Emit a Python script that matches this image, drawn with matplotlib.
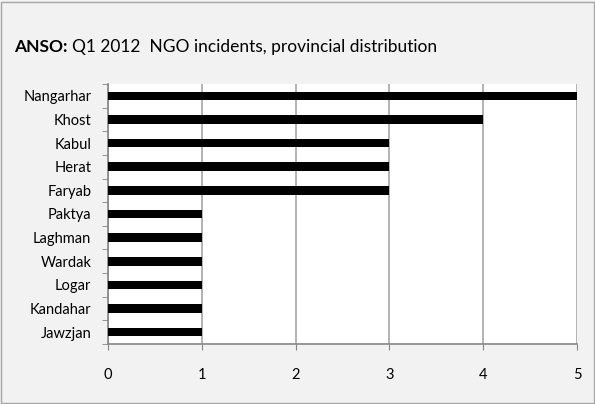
import matplotlib.pyplot as plt
from matplotlib.patches import Rectangle

provinces = ['Nangarhar', 'Khost', 'Kabul', 'Herat', 'Faryab', 'Paktya',
             'Laghman', 'Wardak', 'Logar', 'Kandahar', 'Jawzjan']
incidents = [5, 4, 3, 3, 3, 1, 1, 1, 1, 1, 1]
xticks = [0, 1, 2, 3, 4, 5]

plt.rcParams['font.family'] = ['Lato', 'DejaVu Sans']

fig = plt.figure(figsize=(5.95, 4.04), dpi=100, facecolor='#f2f2f2')
fig.patches.append(Rectangle((0.002, 0.002), 0.996, 0.994, transform=fig.transFigure,
                             fill=False, edgecolor='#a6a6a6', linewidth=1))
ax = fig.add_axes([108 / 595, 1 - 344 / 404, (577 - 108) / 595, (344 - 84) / 404])
ax.set_facecolor('white')

ypos = list(range(len(provinces)))[::-1]
ax.barh(ypos, incidents, height=0.36, color='black', zorder=3)

ax.set_xlim(0, 5)
ax.set_ylim(-0.5, len(provinces) - 0.5)
ax.set_xticks(xticks)
ax.set_yticks(ypos)
ax.set_yticklabels(provinces)
ax.set_yticks([y + 0.5 for y in range(-1, len(provinces))], minor=True)
ax.tick_params(axis='y', which='major', length=0, labelsize=10.5, pad=12)
ax.tick_params(axis='y', which='minor', length=4, color='#868686')
ax.tick_params(axis='x', length=4, color='#868686', labelsize=10.5, pad=13)
ax.grid(axis='x', color='#a6a6a6', linewidth=1.2, zorder=0)
for s in ['top', 'right']:
    ax.spines[s].set_visible(False)
for s in ['left', 'bottom']:
    ax.spines[s].set_color('#868686')
    ax.spines[s].set_linewidth(1.2)

fig.text(14 / 595, 1 - 47 / 404, 'ANSO:', fontsize=12.5, fontweight='bold', va='center')
fig.text(72 / 595, 1 - 47 / 404, 'Q1 2012  NGO incidents, provincial distribution',
         fontsize=12.5, va='center')

fig.savefig('out.png', dpi=100, facecolor=fig.get_facecolor())
